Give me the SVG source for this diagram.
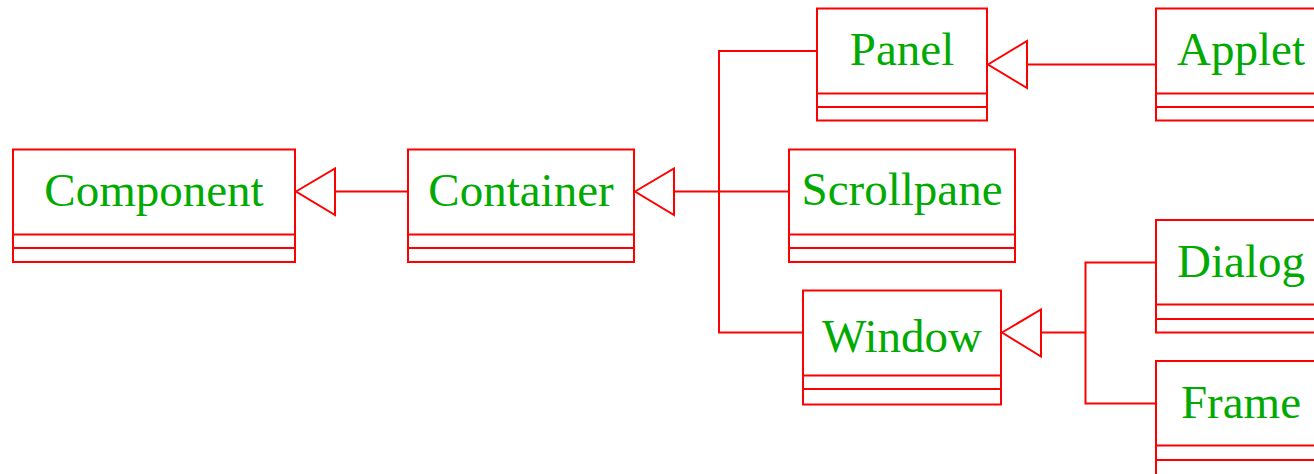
<svg xmlns="http://www.w3.org/2000/svg" width="1314" height="474" viewBox="0 0 1314 474">
  <style>
    .box { fill: #ffffff; stroke: #ff0000; stroke-width: 2; }
    .div { stroke: #ff0000; stroke-width: 2; }
    .lbl { font-family: "Liberation Serif", "Times New Roman", serif; font-size: 47px; fill: #00aa00; text-anchor: middle; }
    .wire { fill: none; stroke: #ff0000; stroke-width: 2; }
    .head { fill: #ffffff; stroke: #ff0000; stroke-width: 2; }
  </style>

  <!-- generalisation connectors -->
  <g id="connectors">
    <line class="wire" x1="335" y1="191.5" x2="408" y2="191.5"/>
    <polygon class="head" points="296,191.5 335,168.5 335,215"/>

    <line class="wire" x1="674" y1="191.5" x2="789" y2="191.5"/>
    <polyline class="wire" points="817,51 719,51 719,332.5 803,332.5"/>
    <polygon class="head" points="635,191.5 674,168.5 674,215"/>

    <line class="wire" x1="1027" y1="64.5" x2="1156" y2="64.5"/>
    <polygon class="head" points="988,64.5 1027,41 1027,88"/>

    <line class="wire" x1="1041" y1="332.5" x2="1085.5" y2="332.5"/>
    <polyline class="wire" points="1156,262.5 1085.5,262.5 1085.5,403.5 1156,403.5"/>
    <polygon class="head" points="1002,332.5 1041,309.5 1041,356.5"/>
  </g>

  <g id="component">
    <rect class="box" x="13" y="149.5" width="282" height="112.5"/>
    <line class="div" x1="13" y1="234.5" x2="295" y2="234.5"/>
    <line class="div" x1="13" y1="248" x2="295" y2="248"/>
    <text class="lbl" x="154" y="206">Component</text>
  </g>

  <g id="container">
    <rect class="box" x="408" y="149.5" width="226" height="112.5"/>
    <line class="div" x1="408" y1="234.5" x2="634" y2="234.5"/>
    <line class="div" x1="408" y1="248" x2="634" y2="248"/>
    <text class="lbl" x="521" y="206">Container</text>
  </g>

  <g id="panel">
    <rect class="box" x="817" y="8.5" width="170" height="112"/>
    <line class="div" x1="817" y1="93.5" x2="987" y2="93.5"/>
    <line class="div" x1="817" y1="107" x2="987" y2="107"/>
    <text class="lbl" x="902" y="65">Panel</text>
  </g>

  <g id="applet">
    <rect class="box" x="1156" y="8.5" width="170" height="112"/>
    <line class="div" x1="1156" y1="93.5" x2="1326" y2="93.5"/>
    <line class="div" x1="1156" y1="107" x2="1326" y2="107"/>
    <text class="lbl" x="1241" y="65">Applet</text>
  </g>

  <g id="scrollpane">
    <rect class="box" x="789" y="149.5" width="226" height="112.5"/>
    <line class="div" x1="789" y1="234.5" x2="1015" y2="234.5"/>
    <line class="div" x1="789" y1="248" x2="1015" y2="248"/>
    <text class="lbl" x="902" y="205">Scrollpane</text>
  </g>

  <g id="window">
    <rect class="box" x="803" y="290.5" width="198" height="114"/>
    <line class="div" x1="803" y1="375.5" x2="1001" y2="375.5"/>
    <line class="div" x1="803" y1="389" x2="1001" y2="389"/>
    <text class="lbl" x="902" y="352">Window</text>
  </g>

  <g id="dialog">
    <rect class="box" x="1156" y="220" width="170" height="112.5"/>
    <line class="div" x1="1156" y1="304.5" x2="1326" y2="304.5"/>
    <line class="div" x1="1156" y1="319" x2="1326" y2="319"/>
    <text class="lbl" x="1241" y="277">Dialog</text>
  </g>

  <g id="frame">
    <rect class="box" x="1156" y="361" width="170" height="120"/>
    <line class="div" x1="1156" y1="445.5" x2="1326" y2="445.5"/>
    <line class="div" x1="1156" y1="460" x2="1326" y2="460"/>
    <text class="lbl" x="1241" y="418">Frame</text>
  </g>
</svg>
